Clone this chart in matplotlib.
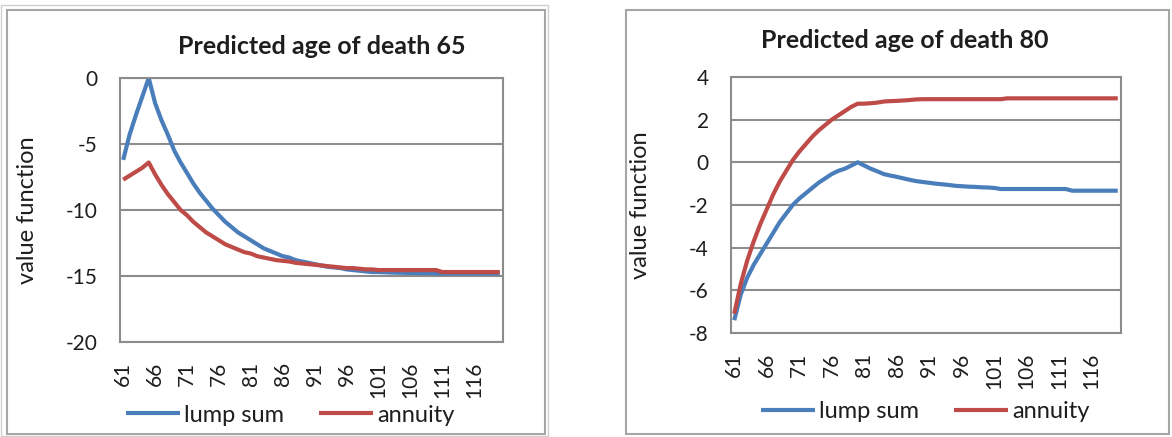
import numpy as np
import matplotlib
matplotlib.use("Agg")
import matplotlib.pyplot as plt
from matplotlib.patches import Rectangle

plt.rcParams['font.family'] = ['Lato', 'DejaVu Sans']

ages = list(range(61, 121))
age_ticks = list(range(61, 117, 5))

# predicted age of death 65
lump_65 = [-6.2, -4.3, -2.8, -1.4, 0.0, -1.9, -3.2, -4.3, -5.5, -6.4,
           -7.2, -8.0, -8.7, -9.3, -9.9, -10.4, -10.9, -11.3, -11.7, -12.0,
           -12.3, -12.6, -12.9, -13.1, -13.3, -13.5, -13.6, -13.8, -13.9, -14.0,
           -14.1, -14.2, -14.3, -14.35, -14.4, -14.5, -14.55, -14.6, -14.65, -14.7,
           -14.7, -14.72, -14.74, -14.75, -14.76, -14.77, -14.78, -14.78, -14.79, -14.8,
           -14.8, -14.8, -14.8, -14.8, -14.8, -14.8, -14.8, -14.8, -14.8, -14.8]
annuity_65 = [-7.7, -7.4, -7.1, -6.8, -6.4, -7.3, -8.1, -8.8, -9.4, -10.0,
              -10.4, -10.9, -11.3, -11.7, -12.0, -12.3, -12.6, -12.8, -13.0, -13.2,
              -13.3, -13.5, -13.6, -13.7, -13.8, -13.85, -13.9, -14.0, -14.05, -14.1,
              -14.15, -14.2, -14.25, -14.3, -14.35, -14.4, -14.4, -14.45, -14.5, -14.5,
              -14.55, -14.55, -14.55, -14.55, -14.55, -14.55, -14.55, -14.55, -14.55, -14.55,
              -14.7, -14.7, -14.7, -14.7, -14.7, -14.7, -14.7, -14.7, -14.7, -14.7]

# predicted age of death 80
lump_80 = [-7.4, -6.2, -5.4, -4.8, -4.3, -3.8, -3.3, -2.8, -2.4, -2.0,
           -1.7, -1.45, -1.2, -0.95, -0.75, -0.55, -0.4, -0.3, -0.15, 0.0,
           -0.15, -0.3, -0.42, -0.55, -0.62, -0.68, -0.75, -0.82, -0.88, -0.92,
           -0.96, -1.0, -1.03, -1.06, -1.1, -1.12, -1.14, -1.15, -1.17, -1.18,
           -1.2, -1.25, -1.25, -1.25, -1.25, -1.25, -1.25, -1.25, -1.25, -1.25,
           -1.25, -1.25, -1.33, -1.33, -1.33, -1.33, -1.33, -1.33, -1.33, -1.33]
annuity_80 = [-7.1, -5.7, -4.6, -3.7, -2.9, -2.2, -1.5, -0.9, -0.4, 0.1,
              0.5, 0.85, 1.2, 1.5, 1.75, 2.0, 2.2, 2.4, 2.6, 2.75,
              2.75, 2.77, 2.8, 2.85, 2.87, 2.88, 2.9, 2.92, 2.95, 2.96,
              2.96, 2.96, 2.96, 2.96, 2.96, 2.96, 2.96, 2.96, 2.96, 2.96,
              2.96, 2.96, 3.0, 3.0, 3.0, 3.0, 3.0, 3.0, 3.0, 3.0,
              3.0, 3.0, 3.0, 3.0, 3.0, 3.0, 3.0, 3.0, 3.0, 3.0]

titles = ["Predicted age of death 65", "Predicted age of death 80"]
ylims = [(-20, 0, 5), (-8, 4, 2)]

BLUE = '#4a7ebb'
RED = '#be4b48'
GRID = '#8c8c8c'
TXT = '#1e1e1e'

W, H = 1172, 437
fig = plt.figure(figsize=(W / 100, H / 100), dpi=100)

def px(x0, y0, x1, y1):
    # pixel box (top-left origin) -> figure fraction rect
    return [x0 / W, 1 - y1 / H, (x1 - x0) / W, (y1 - y0) / H]

# panel frames
for (x0, y0, x1, y1) in [(7, 10, 545, 434), (626, 10, 1169, 434)]:
    fig.patches.append(Rectangle((x0 / W, 1 - y1 / H), (x1 - x0) / W, (y1 - y0) / H,
                                 transform=fig.transFigure, fill=False,
                                 edgecolor='#a6a6a6', lw=1.5))
fig.patches.append(Rectangle((1 / W, 1 - 436 / H), 547 / W, 431 / H, transform=fig.transFigure,
                             fill=False, edgecolor='#d0d0d0', lw=1))

axes_px = [(120, 78, 503, 342), (731, 77, 1121, 333)]
series = [(lump_65, annuity_65), (lump_80, annuity_80)]
title_pos = [(322, 46), (905, 40)]
ylab_x = [38, 651]
legend_pos = [(290, 415), (925, 412)]

for i in range(2):
    ax = fig.add_axes(px(*axes_px[i]))
    lump, ann = series[i]
    l1, = ax.plot(ages, lump, color=BLUE, lw=3, label='lump sum', solid_capstyle='butt')
    l2, = ax.plot(ages, ann, color=RED, lw=3, label='annuity', solid_capstyle='butt')
    lo, hi, step = ylims[i]
    ax.set_ylim(lo, hi)
    ax.set_yticks(np.arange(lo, hi + 0.1, step))
    ax.set_yticklabels([str(int(v)) for v in np.arange(lo, hi + 0.1, step)])
    ax.set_xlim(60.5, 120.5)
    ax.set_xticks(age_ticks)
    ax.set_xticklabels([str(a) for a in age_ticks], rotation=90)
    ax.tick_params(axis='both', length=0, colors=TXT)
    ax.tick_params(axis='x', labelsize=15, pad=14)
    ax.tick_params(axis='y', labelsize=15, pad=16)
    ax.yaxis.grid(True, color=GRID, lw=1.5)
    ax.set_axisbelow(True)
    for s in ax.spines.values():
        s.set_color(GRID)
        s.set_linewidth(1.5)
    fig.text(title_pos[i][0] / W, 1 - title_pos[i][1] / H, titles[i],
             ha='center', va='center', fontsize=18, fontweight='bold', color=TXT)
    ax.set_ylabel('value function', fontsize=17, color=TXT)
    ax.yaxis.set_label_coords((ylab_x[i] - axes_px[i][0]) / (axes_px[i][2] - axes_px[i][0]), 0.5)
    fig.legend(handles=[l1, l2], loc='center',
               bbox_to_anchor=(legend_pos[i][0] / W, 1 - legend_pos[i][1] / H),
               ncol=2, frameon=False, fontsize=17, handlelength=2.3,
               handletextpad=0.15, columnspacing=1.5, labelcolor=TXT)

fig.savefig('out.png', dpi=100)
